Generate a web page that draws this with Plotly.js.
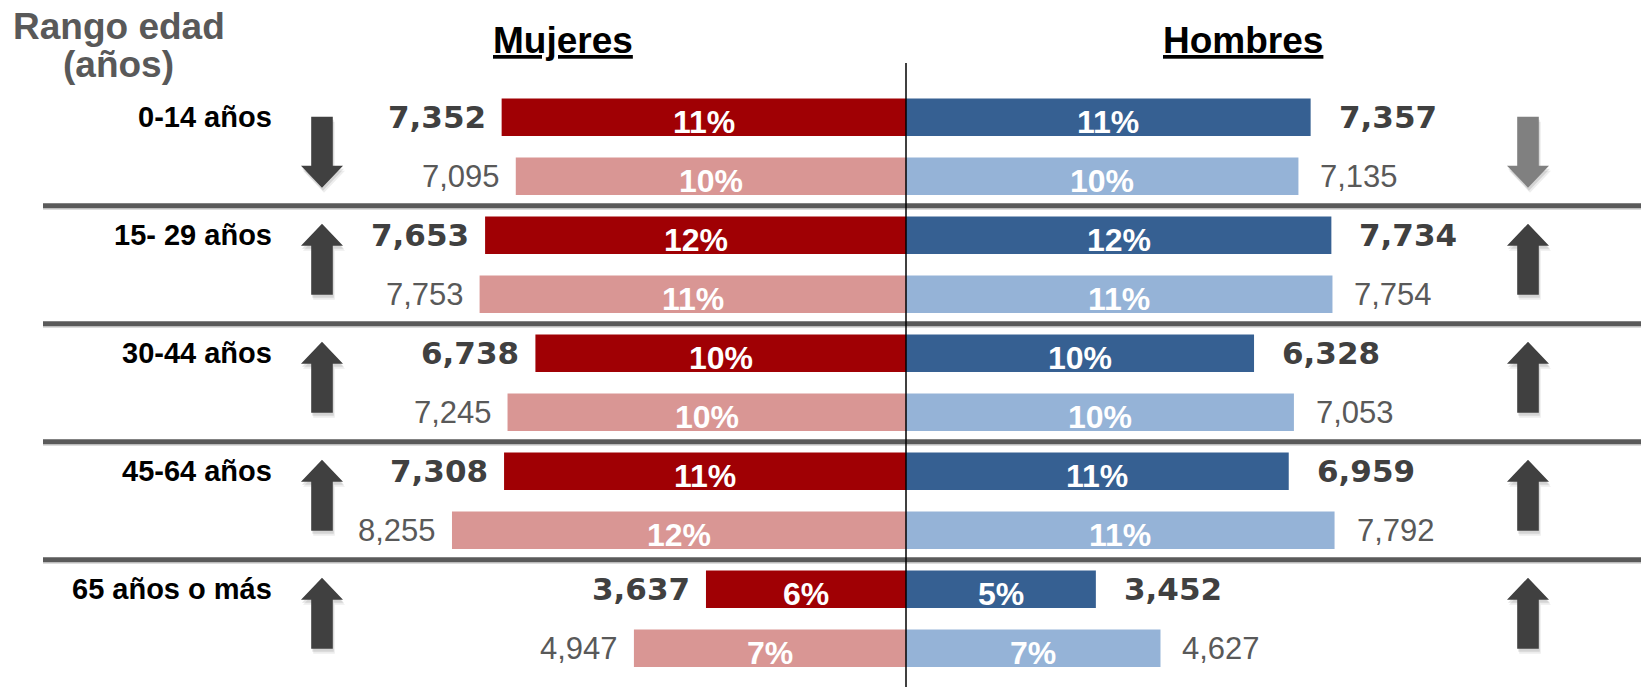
<!DOCTYPE html>
<html>
<head>
<meta charset="utf-8">
<script src="https://cdn.plot.ly/plotly-3.0.1.min.js"></script>
<style>
  html, body { margin: 0; padding: 0; background: #ffffff; }
  #chart { width: 1641px; height: 687px; }
</style>
</head>
<body>
<div id="chart"></div>
<script>
// ---------------- data ----------------
const ageGroups = ['0-14 años', '15- 29 años', '30-44 años', '45-64 años', '65 años o más'];
const womenBold = [7352, 7653, 6738, 7308, 3637];
const womenLight = [7095, 7753, 7245, 8255, 4947];
const menBold = [7357, 7734, 6328, 6959, 3452];
const menLight = [7135, 7754, 7053, 7792, 4627];
const womenBoldPct = [11, 12, 10, 11, 6];
const womenLightPct = [10, 11, 10, 12, 7];
const menBoldPct = [11, 12, 10, 11, 5];
const menLightPct = [10, 11, 10, 11, 7];
const headerLeft = ['Rango edad', '(años)'];
const headerWomen = 'Mujeres';
const headerMen = 'Hombres';

// ---------------- styles ----------------
const W = 1641, H = 687;
const SLOT = 59;               // px per bar slot
const PX_PER_UNIT = 0.055;     // px per person
const CENTER_PX = 906;
const FIRST_SLOT_PX = 117.2;
const SANS = 'Liberation Sans, Arial, sans-serif';
const HEAVY = 'DejaVu Sans, Arial Black, sans-serif';
const colWomenDark = '#A00004', colWomenLight = '#D99694';
const colMenDark = '#366092', colMenLight = '#95B3D7';
const arrowColWomen = ['#404040', '#404040', '#404040', '#404040', '#404040'];
const arrowColMen = ['#808080', '#404040', '#404040', '#404040', '#404040'];

const fmt = v => v.toLocaleString('en-US');
const darkSlot = i => 2 * i;
const lightSlot = i => 2 * i + 1;
const py = px => 1 - px / H;

const xRange = [-CENTER_PX / PX_PER_UNIT, (W - CENTER_PX) / PX_PER_UNIT];
const yRange = [(H - FIRST_SLOT_PX) / SLOT, -FIRST_SLOT_PX / SLOT];

function barTrace(vals, sign, slotFn, color) {
  return {
    type: 'bar', orientation: 'h',
    x: vals.map(v => sign * v),
    y: vals.map((_, i) => slotFn(i)),
    width: 0.634,
    marker: { color: color, line: { width: 0 } },
    hoverinfo: 'skip'
  };
}

const traces = [
  barTrace(womenBold, -1, darkSlot, colWomenDark),
  barTrace(womenLight, -1, lightSlot, colWomenLight),
  barTrace(menBold, 1, darkSlot, colMenDark),
  barTrace(menLight, 1, lightSlot, colMenLight)
];

const annotations = [];

// headers
annotations.push({ xref: 'paper', yref: 'paper', x: 119 / W, y: py(26), text: headerLeft[0], showarrow: false,
  xanchor: 'center', yanchor: 'middle', font: { family: SANS, size: 37, color: '#595959', weight: 'bold' } });
annotations.push({ xref: 'paper', yref: 'paper', x: 119 / W, y: py(64), text: headerLeft[1], showarrow: false,
  xanchor: 'center', yanchor: 'middle', font: { family: SANS, size: 37, color: '#595959', weight: 'bold' } });
annotations.push({ xref: 'paper', yref: 'paper', x: 563 / W, y: py(41), text: headerWomen, showarrow: false,
  xanchor: 'center', yanchor: 'middle', font: { family: SANS, size: 37, color: '#000000', weight: 'bold', lineposition: 'under' } });
annotations.push({ xref: 'paper', yref: 'paper', x: 1243 / W, y: py(41), text: headerMen, showarrow: false,
  xanchor: 'center', yanchor: 'middle', font: { family: SANS, size: 37, color: '#000000', weight: 'bold', lineposition: 'under' } });

// age labels
ageGroups.forEach((g, i) => {
  annotations.push({ xref: 'paper', yref: 'y', x: 274 / W, y: darkSlot(i), text: g, showarrow: false,
    xanchor: 'right', yanchor: 'middle', font: { family: SANS, size: 29, color: '#000000', weight: 'bold' } });
});

function valueLabels(vals, sign, slotFn, heavy, shift) {
  vals.forEach((v, i) => {
    annotations.push({
      xref: 'x', yref: 'y', x: sign * v, y: slotFn(i), text: fmt(v), showarrow: false,
      xanchor: sign < 0 ? 'right' : 'left', yanchor: 'middle', xshift: sign * shift,
      font: heavy ? { family: HEAVY, size: 31, color: '#404040', weight: 'bold' }
                  : { family: SANS, size: 31, color: '#595959' }
    });
  });
}
valueLabels(womenBold, -1, darkSlot, true, 14);
valueLabels(womenLight, -1, lightSlot, false, 14);
valueLabels(menBold, 1, darkSlot, true, 26);
valueLabels(menLight, 1, lightSlot, false, 20);

function pctLabels(vals, pcts, sign, slotFn) {
  vals.forEach((v, i) => {
    annotations.push({
      xref: 'x', yref: 'y', x: sign * v / 2, y: slotFn(i), text: pcts[i] + '%', showarrow: false,
      xanchor: 'center', yanchor: 'middle', yshift: -5,
      font: { family: SANS, size: 32, color: '#ffffff', weight: 'bold' }
    });
  });
}
pctLabels(womenBold, womenBoldPct, -1, darkSlot);
pctLabels(womenLight, womenLightPct, -1, lightSlot);
pctLabels(menBold, menBoldPct, 1, darkSlot);
pctLabels(menLight, menLightPct, 1, lightSlot);

// ---------------- shapes ----------------
const shapes = [];

// group separators
for (let i = 0; i < ageGroups.length - 1; i++) {
  const s = lightSlot(i) + 0.5;
  shapes.push({ type: 'line', xref: 'paper', yref: 'y', x0: 43 / W, x1: 1, y0: s + 3.2 / SLOT, y1: s + 3.2 / SLOT,
    line: { color: '#d0d0d0', width: 1.5 } });
  shapes.push({ type: 'line', xref: 'paper', yref: 'y', x0: 43 / W, x1: 1, y0: s, y1: s,
    line: { color: '#5a5a5a', width: 5 } });
}

// centre axis line
shapes.push({ type: 'line', xref: 'x', yref: 'paper', x0: 0, x1: 0, y0: 0, y1: py(63),
  line: { color: '#000000', width: 1.5 } });

// arrows
function arrowPath(cxPx, gcSlot, up, dx, dy) {
  const s = up ? -1 : 1;
  const tip = s * 41, base = s * (41 - 22), tail = -s * 30;
  const X = px => ((cxPx + px + dx) / W).toFixed(5);
  const Y = off => (gcSlot + (off + dy) / SLOT).toFixed(5);
  const pts = [[0, tip], [21, base], [10.8, base], [10.8, tail], [-10.8, tail], [-10.8, base], [-21, base]];
  return 'M' + pts.map(p => X(p[0]) + ',' + Y(p[1])).join(' L') + ' Z';
}
function addArrow(cxPx, gcSlot, up, color) {
  shapes.push({ type: 'path', xref: 'paper', yref: 'y', path: arrowPath(cxPx, gcSlot, up, 2, 5),
    fillcolor: 'rgba(0,0,0,0.07)', line: { width: 0 } });
  shapes.push({ type: 'path', xref: 'paper', yref: 'y', path: arrowPath(cxPx, gcSlot, up, 1, 3),
    fillcolor: 'rgba(0,0,0,0.10)', line: { width: 0 } });
  shapes.push({ type: 'path', xref: 'paper', yref: 'y', path: arrowPath(cxPx, gcSlot, up, 0, 0),
    fillcolor: color, line: { width: 0 } });
}
ageGroups.forEach((g, i) => {
  const gc = darkSlot(i) + 0.5;
  addArrow(322, gc, womenLight[i] > womenBold[i], arrowColWomen[i]);
  addArrow(1528, gc, menLight[i] > menBold[i], arrowColMen[i]);
});

const layout = {
  width: W, height: H,
  margin: { l: 0, r: 0, t: 0, b: 0, pad: 0 },
  paper_bgcolor: '#ffffff', plot_bgcolor: '#ffffff',
  barmode: 'overlay', showlegend: false,
  xaxis: { range: xRange, visible: false, fixedrange: true },
  yaxis: { range: yRange, visible: false, fixedrange: true },
  annotations: annotations,
  shapes: shapes,
  font: { family: SANS }
};

Plotly.newPlot('chart', traces, layout, { displayModeBar: false, staticPlot: true });
</script>
</body>
</html>
